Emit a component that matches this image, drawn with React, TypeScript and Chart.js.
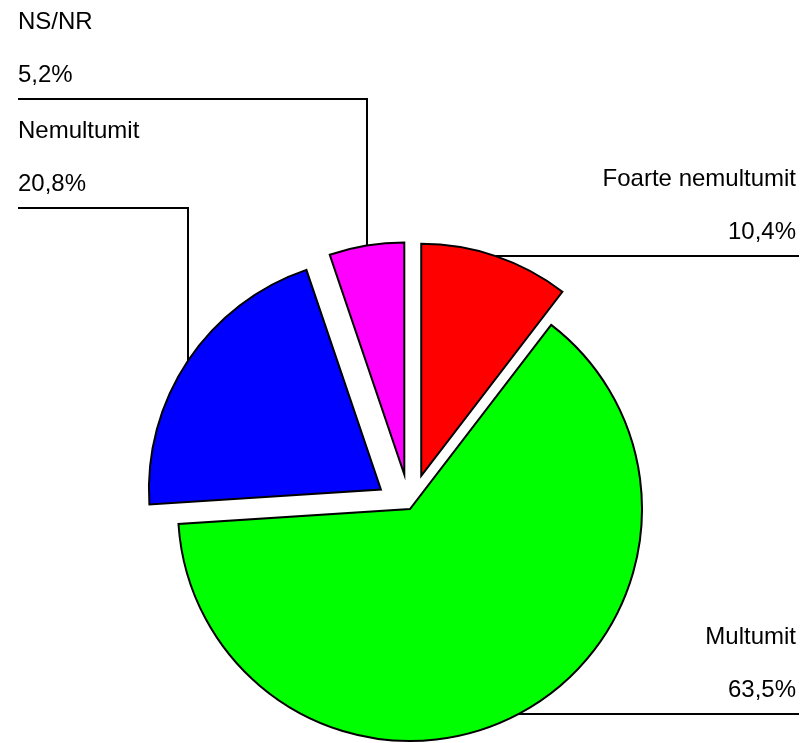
import { useEffect, useRef } from 'react';
import { Chart, registerables } from 'chart.js';

Chart.register(...registerables);

// ---- data ----
const categories = ['Foarte nemultumit', 'Multumit', 'Nemultumit', 'NS/NR'];
const percentages = [10.4, 63.5, 20.8, 5.2];
const sliceColors = ['#ff0000', '#00ff00', '#0000ff', '#ff00ff'];

// ---- layout / style ----
const EXPLODE = [35, 0, 35, 35];
const LABEL_SIDE = ['right', 'right', 'left', 'left'];
const LEFT_LINE_Y: (number | null)[] = [null, null, 208, 99];
const LEFT_X = 18;
const RIGHT_LINE_END = 799;
const RIGHT_TEXT_X = 796;
const FONT = '24px "Liberation Sans", Arial, sans-serif';

const fmt = (v: number) => v.toFixed(1).replace('.', ',') + '%';

const explodePlugin = {
  id: 'explodeSlices',
  beforeDatasetDraw(chart: any, args: any) {
    const ctx = chart.ctx;
    args.meta.data.forEach((arc: any, i: number) => {
      const mid = (arc.startAngle + arc.endAngle) / 2;
      const d = EXPLODE[i] || 0;
      ctx.save();
      ctx.translate(Math.cos(mid) * d, Math.sin(mid) * d);
      arc.draw(ctx);
      ctx.restore();
    });
    return false;
  },
};

const labelPlugin = {
  id: 'sliceLabels',
  afterDraw(chart: any) {
    const meta = chart.getDatasetMeta(0);
    const ctx = chart.ctx;
    ctx.save();
    ctx.font = FONT;
    ctx.fillStyle = '#000';
    ctx.strokeStyle = '#000';
    ctx.lineWidth = 2;
    ctx.textBaseline = 'alphabetic';
    meta.data.forEach((arc: any, i: number) => {
      const mid = (arc.startAngle + arc.endAngle) / 2;
      const r = arc.outerRadius + (EXPLODE[i] || 0);
      const px = Math.round(arc.x + Math.cos(mid) * r);
      const py = Math.round(arc.y + Math.sin(mid) * r);
      let lineY: number;
      let tx: number;
      ctx.beginPath();
      if (LABEL_SIDE[i] === 'left') {
        lineY = LEFT_LINE_Y[i] as number;
        ctx.moveTo(px, py);
        ctx.lineTo(px, lineY);
        ctx.lineTo(LEFT_X, lineY);
        ctx.textAlign = 'left';
        tx = LEFT_X;
      } else {
        lineY = py;
        ctx.moveTo(px, py);
        ctx.lineTo(RIGHT_LINE_END, py);
        ctx.textAlign = 'right';
        tx = RIGHT_TEXT_X;
      }
      ctx.stroke();
      ctx.fillText(categories[i], tx, lineY - 70);
      ctx.fillText(fmt(percentages[i]), tx, lineY - 17);
    });
    ctx.restore();
  },
};

export default function App() {
  const ref = useRef<HTMLCanvasElement>(null);
  useEffect(() => {
    const chart = new Chart(ref.current as HTMLCanvasElement, {
      type: 'pie',
      data: {
        labels: categories,
        datasets: [
          {
            data: percentages,
            backgroundColor: sliceColors,
            borderColor: '#000',
            borderWidth: 2,
            borderJoinStyle: 'miter',
            radius: 232,
            clip: false,
          } as any,
        ],
      },
      options: {
        responsive: false,
        animation: false,
        events: [],
        layout: { padding: { left: 18, right: 0, top: 275, bottom: 0 } },
        plugins: { legend: { display: false }, tooltip: { enabled: false } },
      },
      plugins: [explodePlugin, labelPlugin],
    });
    return () => chart.destroy();
  }, []);
  return (
    <div style={{ position: 'fixed', left: 0, top: 0, width: 802, height: 743, background: '#fff' }}>
      <canvas ref={ref} width={802} height={743} style={{ display: 'block' }} />
    </div>
  );
}
